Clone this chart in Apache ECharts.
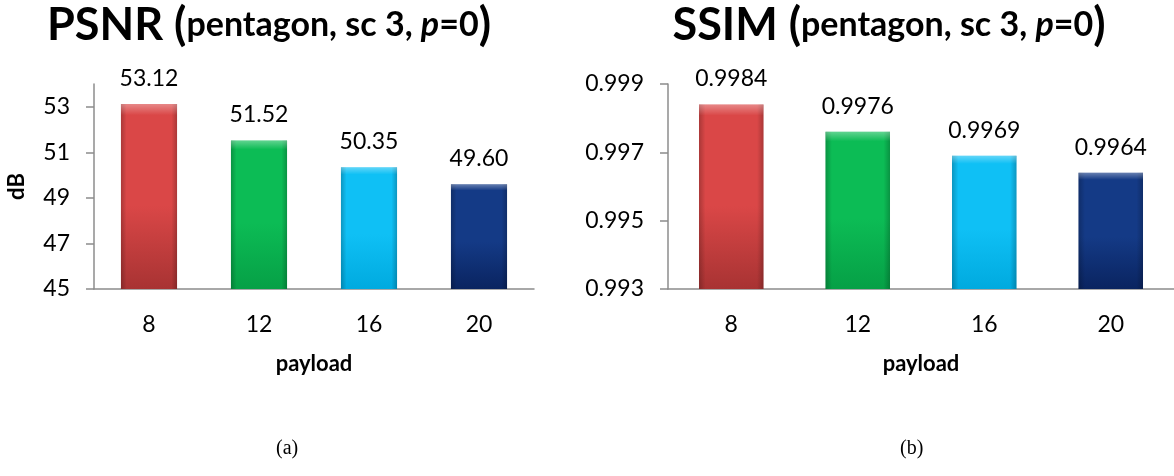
<!DOCTYPE html>
<html>
<head>
<meta charset="utf-8">
<script src="https://cdn.jsdelivr.net/npm/echarts@6/dist/echarts.min.js"></script>
<style>
  html, body { margin: 0; padding: 0; background: #fff; }
  #chart { width: 1174px; height: 476px; }
</style>
</head>
<body>
<div id="chart"></div>
<script>
// Payload sizes on the category axis
const payloads = ['8', '12', '16', '20'];
// Image quality measured for each payload
const psnrValues = [53.12, 51.52, 50.35, 49.60];
const ssimValues = [0.9984, 0.9976, 0.9969, 0.9964];
// Value-axis tick labels
const psnrTicks = [45, 47, 49, 51, 53];
const ssimTicks = [0.993, 0.995, 0.997, 0.999];

// Per-bar fill colours (top, bottom) for the bevelled look
const barShades = [
  ['#da4747', '#a83333'],
  ['#0cbc55', '#06a046'],
  ['#0fc0f5', '#00aadf'],
  ['#143a86', '#0a2460']
];

const FONT = 'Lato, "Open Sans", sans-serif';

function vGrad(i) {
  return new echarts.graphic.LinearGradient(0, 0, 0, 1, [
    { offset: 0, color: barShades[i][0] },
    { offset: 0.55, color: barShades[i][0] },
    { offset: 1, color: barShades[i][1] }
  ]);
}
const edgeShade = new echarts.graphic.LinearGradient(0, 0, 1, 0, [
  { offset: 0, color: 'rgba(0,0,0,0.22)' },
  { offset: 0.1, color: 'rgba(0,0,0,0)' },
  { offset: 0.9, color: 'rgba(0,0,0,0)' },
  { offset: 1, color: 'rgba(0,0,0,0.22)' }
]);
const topShine = new echarts.graphic.LinearGradient(0, 0, 0, 1, [
  { offset: 0, color: 'rgba(255,255,255,0.35)' },
  { offset: 0.06, color: 'rgba(255,255,255,0)' },
  { offset: 1, color: 'rgba(255,255,255,0)' }
]);

function barData(values) {
  return values.map((v, i) => ({ value: v, itemStyle: { color: vGrad(i) } }));
}

function titleText(name) {
  return '{m|' + name + ' (}{s|pentagon, sc 3, }{i|p}{s|=0}{m|)}';
}
const titleRich = {
  m: { fontFamily: FONT, fontWeight: 'bold', fontSize: 45, color: '#000' },
  s: { fontFamily: FONT, fontWeight: 'bold', fontSize: 34, color: '#000' },
  i: { fontFamily: FONT, fontWeight: 'bold', fontStyle: 'italic', fontSize: 34, color: '#000' }
};

const axisGray = '#8c8c8c';
const tickFont = { fontFamily: FONT, fontSize: 23, color: '#000' };

function xAxisCfg(gridIndex) {
  return {
    type: 'category',
    gridIndex: gridIndex,
    data: payloads,
    axisLine: { lineStyle: { color: axisGray, width: 1.5 } },
    axisTick: { show: false },
    axisLabel: Object.assign({ margin: 24 }, tickFont),
    name: 'payload',
    nameLocation: 'middle',
    nameGap: 64,
    nameTextStyle: { fontFamily: FONT, fontWeight: 'bold', fontSize: 22, color: '#000' }
  };
}

function barSeries(idx, values, digits) {
  return [
    {
      type: 'bar',
      xAxisIndex: idx, yAxisIndex: idx,
      data: barData(values),
      barWidth: '51%',
      label: {
        show: true, position: 'top', distance: 14,
        fontFamily: FONT, fontSize: 23, color: '#000',
        formatter: p => p.value.toFixed(digits)
      },
      z: 2
    },
    {
      type: 'bar',
      xAxisIndex: idx, yAxisIndex: idx,
      data: values,
      barWidth: '51%',
      barGap: '-100%',
      itemStyle: { color: edgeShade },
      silent: true,
      z: 3
    },
    {
      type: 'bar',
      xAxisIndex: idx, yAxisIndex: idx,
      data: values,
      barWidth: '51%',
      barGap: '-100%',
      itemStyle: { color: topShine },
      silent: true,
      z: 4
    }
  ];
}

const chart = echarts.init(document.getElementById('chart'), null, { renderer: 'canvas' });
chart.setOption({
  animation: false,
  backgroundColor: '#fff',
  title: [
    { text: titleText('PSNR'), left: 264, top: -2, textAlign: 'center', textStyle: { rich: titleRich } },
    { text: titleText('SSIM'), left: 884, top: -2, textAlign: 'center', textStyle: { rich: titleRich } }
  ],
  grid: [
    { left: 94, right: 640, top: 84, bottom: 187 },
    { left: 668, right: 0, top: 84, bottom: 187 }
  ],
  xAxis: [xAxisCfg(0), xAxisCfg(1)],
  yAxis: [
    {
      type: 'value', gridIndex: 0, min: 45, max: 54,
      splitLine: { show: false },
      axisLine: { show: true, lineStyle: { color: axisGray, width: 1.5 } },
      axisTick: { show: true, length: 8, customValues: psnrTicks, lineStyle: { color: axisGray, width: 1.5 } },
      axisLabel: Object.assign({ customValues: psnrTicks, margin: 24 }, tickFont),
      name: 'dB', nameLocation: 'middle', nameGap: 66, nameRotate: 90,
      nameTextStyle: { fontFamily: FONT, fontWeight: 'bold', fontSize: 22, color: '#000' }
    },
    {
      type: 'value', gridIndex: 1, min: 0.993, max: 0.999,
      splitLine: { show: false },
      axisLine: { show: true, lineStyle: { color: axisGray, width: 1.5 } },
      axisTick: { show: true, length: 8, customValues: ssimTicks, lineStyle: { color: axisGray, width: 1.5 } },
      axisLabel: Object.assign({ customValues: ssimTicks, margin: 24, formatter: v => v.toFixed(3) }, tickFont)
    }
  ],
  graphic: [
    { type: 'text', left: 276, top: 439, style: { text: '(a)', fontFamily: '"Liberation Serif", serif', fontSize: 20, fill: '#000' } },
    { type: 'text', left: 900, top: 439, style: { text: '(b)', fontFamily: '"Liberation Serif", serif', fontSize: 20, fill: '#000' } }
  ],
  series: [].concat(barSeries(0, psnrValues, 2), barSeries(1, ssimValues, 4))
});
</script>
</body>
</html>
